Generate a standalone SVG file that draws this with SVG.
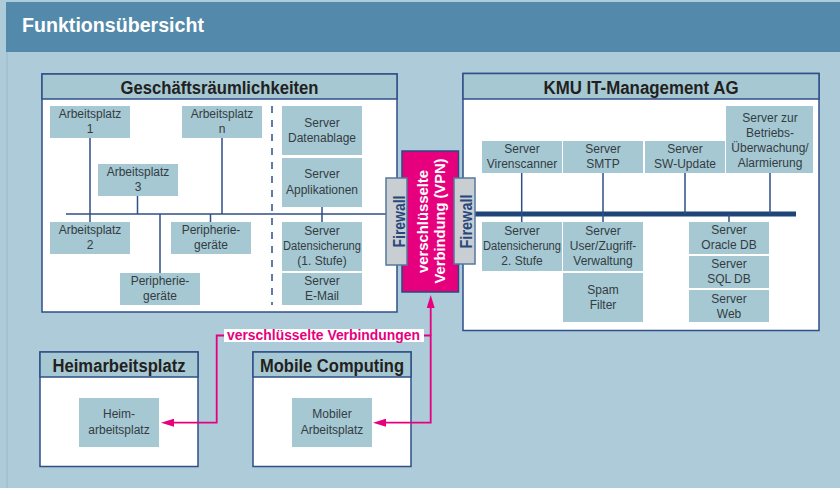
<svg xmlns="http://www.w3.org/2000/svg" width="840" height="488" viewBox="0 0 840 488">
<style>
text{font-family:"Liberation Sans",Arial,sans-serif;text-anchor:middle}
.n{fill:#a5c8d3}
.t{font-size:12px;fill:#343c42}
.h{font-size:17.500px;font-weight:bold;fill:#231f20}
.f{fill:#fff;stroke:#2f4f88;stroke-width:1.5}
.b{fill:#a5c8d3;stroke:#2f4f88;stroke-width:1.5}
.fw{fill:#c9ced2;stroke:#56789c;stroke-width:1.5}
.fwt{font-size:16px;font-weight:bold;fill:#28487c}
.vt{font-size:15px;font-weight:bold;fill:#fff}
.l{fill:none;stroke:#2f4f88;stroke-width:1.5}
.p{fill:none;stroke:#e6007e;stroke-width:1.8}
</style>
<defs>
<marker id="ah" viewBox="0 0 13 8" refX="0" refY="4" markerWidth="13" markerHeight="8" markerUnits="userSpaceOnUse" orient="auto"><path d="M0 0L13 4L0 8Z" fill="#e6007e"/></marker>
</defs>
<rect width="840" height="488" fill="#aecbd9"/>
<rect x="6" y="52" width="2" height="436" fill="#a3c2d2"/>
<g id="header"><rect x="6" y="2" width="834" height="50" fill="#538aab"/>
<text x="113" y="32" font-size="20" font-weight="bold" fill="#fff" textLength="182" lengthAdjust="spacingAndGlyphs">Funktionsübersicht</text></g>

<g id="box-geschaeft"><rect class="f" x="42" y="74" width="355" height="238"/><rect class="b" x="42" y="74" width="355" height="25"/>
<text class="h" x="219.500" y="94" textLength="198" lengthAdjust="spacingAndGlyphs">Geschäftsräumlichkeiten</text></g>
<g id="box-kmu"><rect class="f" x="463" y="73.500" width="356" height="257"/><rect class="b" x="463" y="73.500" width="356" height="25.500"/>
<text class="h" x="641" y="94" textLength="195" lengthAdjust="spacingAndGlyphs">KMU IT-Management AG</text></g>
<g id="box-heim"><rect class="f" x="40" y="352" width="158" height="114.500"/><rect class="b" x="40" y="352" width="158" height="25"/>
<text class="h" x="119" y="372" textLength="133" lengthAdjust="spacingAndGlyphs">Heimarbeitsplatz</text></g>
<g id="box-mobile"><rect class="f" x="253" y="352" width="158" height="114.500"/><rect class="b" x="253" y="352" width="158" height="25"/>
<text class="h" x="332" y="372" textLength="144" lengthAdjust="spacingAndGlyphs">Mobile Computing</text></g>

<g id="connectors">
<path class="l" d="M66 214H386M90 138V222M137.500 196V214M160 214V273M222 138V214M210.500 214V222M322 207V222"/>
<path class="l" d="M272 106V305" stroke-dasharray="7 7"/>
<path d="M475 214H796" fill="none" stroke="#1f4478" stroke-width="5"/>
<path class="l" d="M521.700 173V222M603 173V222M685 173V214M770 173V214M729 214V222"/>
<path class="p" marker-end="url(#ah)" d="M224 335.500H216.700V422.700H174"/>
<path class="p" marker-end="url(#ah)" d="M424 335.500H430.700V422.700H386"/>
<path class="p" marker-end="url(#ah)" d="M430.700 335.500V308"/>
</g>

<g id="a1"><rect class="n" x="50" y="106" width="80" height="32"/><text class="t" x="90" y="118">Arbeitsplatz</text><text class="t" x="90" y="133">1</text></g>
<g id="an"><rect class="n" x="182" y="106" width="80" height="32"/><text class="t" x="222" y="118">Arbeitsplatz</text><text class="t" x="222" y="133">n</text></g>
<g id="a3"><rect class="n" x="98" y="164" width="80" height="32"/><text class="t" x="138" y="176">Arbeitsplatz</text><text class="t" x="138" y="191">3</text></g>
<g id="a2"><rect class="n" x="50" y="222" width="80" height="32"/><text class="t" x="90" y="234">Arbeitsplatz</text><text class="t" x="90" y="249">2</text></g>
<g id="p1"><rect class="n" x="171" y="222" width="80" height="32"/><text class="t" x="211" y="234">Peripherie-</text><text class="t" x="211" y="249">geräte</text></g>
<g id="p2"><rect class="n" x="120" y="273" width="80" height="32"/><text class="t" x="160" y="285">Peripherie-</text><text class="t" x="160" y="300">geräte</text></g>
<g id="s-daten"><rect class="n" x="282" y="106" width="80" height="49"/><text class="t" x="322" y="127">Server</text><text class="t" x="322" y="142">Datenablage</text></g>
<g id="s-appl"><rect class="n" x="282" y="158" width="80" height="49"/><text class="t" x="322" y="178">Server</text><text class="t" x="322" y="194">Applikationen</text></g>
<g id="s-sich1"><rect class="n" x="282" y="222" width="80" height="49"/><text class="t" x="322" y="235">Server</text><text class="t" x="322" y="250" textLength="78" lengthAdjust="spacingAndGlyphs">Datensicherung</text><text class="t" x="322" y="265">(1. Stufe)</text></g>
<g id="s-mail"><rect class="n" x="282" y="273" width="80" height="32"/><text class="t" x="322" y="285">Server</text><text class="t" x="322" y="300">E-Mail</text></g>

<g id="vpn"><rect x="402" y="151" width="56.500" height="141" fill="#e6007e" stroke="#2a4a80" stroke-width="1.500"/>
<text class="vt" transform="translate(428,221.500) rotate(-90)" textLength="103" lengthAdjust="spacingAndGlyphs">verschlüsselte</text>
<text class="vt" transform="translate(445,221) rotate(-90)" textLength="125" lengthAdjust="spacingAndGlyphs">Verbindung (VPN)</text></g>
<g id="fw-l"><rect class="fw" x="386" y="178" width="21" height="87"/><text class="fwt" transform="translate(404.500,221.500) rotate(-90)" textLength="52" lengthAdjust="spacingAndGlyphs">Firewall</text></g>
<g id="fw-r"><rect class="fw" x="454" y="178" width="21" height="86"/><text class="fwt" transform="translate(472,221.500) rotate(-90)" textLength="54" lengthAdjust="spacingAndGlyphs">Firewall</text></g>

<g id="s-viren"><rect class="n" x="482" y="141" width="80" height="32"/><text class="t" x="522" y="153">Server</text><text class="t" x="522" y="168">Virenscanner</text></g>
<g id="s-smtp"><rect class="n" x="563" y="141" width="80" height="32"/><text class="t" x="603" y="153">Server</text><text class="t" x="603" y="168">SMTP</text></g>
<g id="s-sw"><rect class="n" x="645" y="141" width="80" height="32"/><text class="t" x="685" y="153">Server</text><text class="t" x="685" y="168">SW-Update</text></g>
<g id="s-betrieb"><rect class="n" x="726" y="106" width="87" height="67"/><text class="t" x="770" y="122">Server zur</text><text class="t" x="770" y="137">Betriebs-</text><text class="t" x="770" y="152">Überwachung/</text><text class="t" x="770" y="167">Alarmierung</text></g>
<g id="s-sich2"><rect class="n" x="482" y="222" width="80" height="49"/><text class="t" x="522" y="235">Server</text><text class="t" x="522" y="250" textLength="78" lengthAdjust="spacingAndGlyphs">Datensicherung</text><text class="t" x="522" y="265">2. Stufe</text></g>
<g id="s-user"><rect class="n" x="563" y="222" width="80" height="49"/><text class="t" x="603" y="235">Server</text><text class="t" x="603" y="250">User/Zugriff-</text><text class="t" x="603" y="265">Verwaltung</text></g>
<g id="s-spam"><rect class="n" x="563" y="273" width="80" height="49"/><text class="t" x="603" y="294">Spam</text><text class="t" x="603" y="309">Filter</text></g>
<g id="s-oracle"><rect class="n" x="689" y="222" width="80" height="32"/><text class="t" x="729" y="234">Server</text><text class="t" x="729" y="249">Oracle DB</text></g>
<g id="s-sql"><rect class="n" x="689" y="256" width="80" height="32"/><text class="t" x="729" y="268">Server</text><text class="t" x="729" y="283">SQL DB</text></g>
<g id="s-web"><rect class="n" x="689" y="290" width="80" height="32"/><text class="t" x="729" y="303">Server</text><text class="t" x="729" y="318">Web</text></g>
<g id="heim"><rect class="n" x="79" y="398" width="80" height="49"/><text class="t" x="119" y="418">Heim-</text><text class="t" x="119" y="434">arbeitsplatz</text></g>
<g id="mobil"><rect class="n" x="292" y="398" width="80" height="49"/><text class="t" x="332" y="418">Mobiler</text><text class="t" x="332" y="434">Arbeitsplatz</text></g>

<g id="label-vpn"><rect x="224" y="329" width="200" height="13" fill="#fff"/><text x="323.500" y="339.500" font-size="14" font-weight="bold" fill="#e6007e" textLength="193" lengthAdjust="spacingAndGlyphs">verschlüsselte Verbindungen</text></g>
</svg>
